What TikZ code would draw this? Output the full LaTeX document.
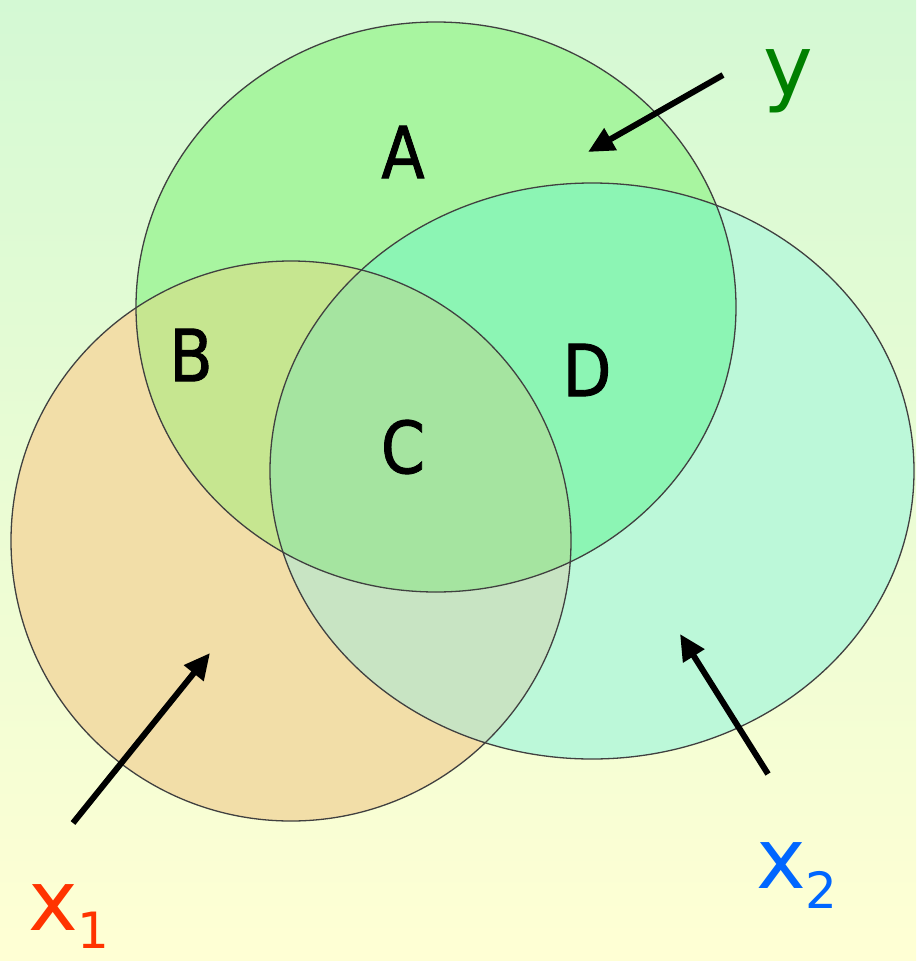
\documentclass[tikz,border=0pt]{standalone}
\usepackage{fontspec}
\setmainfont{DejaVu Sans}
\newfontfamily\regfont{DejaVu Sans}[FakeStretch=0.88,FakeBold=1.2]
\usetikzlibrary{arrows.meta}
\definecolor{bgtop}{RGB}{212,249,212}
\definecolor{bgbot}{RGB}{255,255,212}
\definecolor{cY}{RGB}{168,245,160}
\definecolor{cX}{RGB}{242,222,168}
\definecolor{cW}{RGB}{188,248,217}
\definecolor{cB}{RGB}{198,230,144}
\definecolor{cC}{RGB}{165,228,160}
\definecolor{cD}{RGB}{140,245,180}
\definecolor{cE}{RGB}{200,228,195}
\definecolor{lblY}{RGB}{0,128,0}
\definecolor{lblX}{RGB}{255,51,0}
\definecolor{lblW}{RGB}{0,102,255}
\tikzset{
  rim/.style={draw=black!75, line width=1.3pt},
  region/.style={font=\regfont\fontsize{72}{72}\selectfont, inner sep=0pt},
  varlbl/.style={font=\fontsize{84}{84}\selectfont, inner sep=0pt, anchor=base west},
  pointer/.style={line width=6pt, -{Triangle[length=26pt,width=24pt]}},
}
\def\ellY{(436,307) ellipse [x radius=300, y radius=285]}
\def\ellX{(291,541) ellipse [x radius=280, y radius=280]}
\def\ellW{(592,471) ellipse [x radius=322, y radius=288]}
\begin{document}
\begin{tikzpicture}[x=1pt,y=-1pt]
\useasboundingbox (0,0) rectangle (916,961);
\shade[top color=bgtop, bottom color=bgbot] (0,0) rectangle (916,961);
% base fills
\fill[cX] \ellX;
\fill[cW] \ellW;
\fill[cY] \ellY;
% intersections
\begin{scope}\clip \ellX; \fill[cE] \ellW; \end{scope}
\begin{scope}\clip \ellY; \fill[cB] \ellX; \end{scope}
\begin{scope}\clip \ellY; \fill[cD] \ellW; \end{scope}
\begin{scope}\clip \ellY; \clip \ellX; \fill[cC] \ellW; \end{scope}
% outlines
\draw[rim] \ellX;
\draw[rim] \ellW;
\draw[rim] \ellY;
% region labels
\node[region] (A) at (403,152) {A};
\node[region] (B) at (191,355) {B};
\node[region] (C) at (403,447) {C};
\node[region] (D) at (587,370) {D};
% variable labels
\node[varlbl, text=lblY] (ylbl) at (763,95) {y};
\node[varlbl, text=lblX] (xonelbl) at (28,930) {x\raisebox{-18pt}{\fontsize{50}{50}\selectfont 1}};
\node[varlbl, text=lblW] (xtwolbl) at (756,888) {x\raisebox{-20pt}{\fontsize{50}{50}\selectfont 2}};
% pointers
\coordinate (ys) at (723,75);
\coordinate (ye) at (588,152);
\coordinate (x1s) at (73,823);
\coordinate (x1e) at (210,653);
\coordinate (x2s) at (768,774);
\coordinate (x2e) at (680,634);
\draw[pointer] (ys) -- (ye);
\draw[pointer] (x1s) -- (x1e);
\draw[pointer] (x2s) -- (x2e);
\end{tikzpicture}
\end{document}
